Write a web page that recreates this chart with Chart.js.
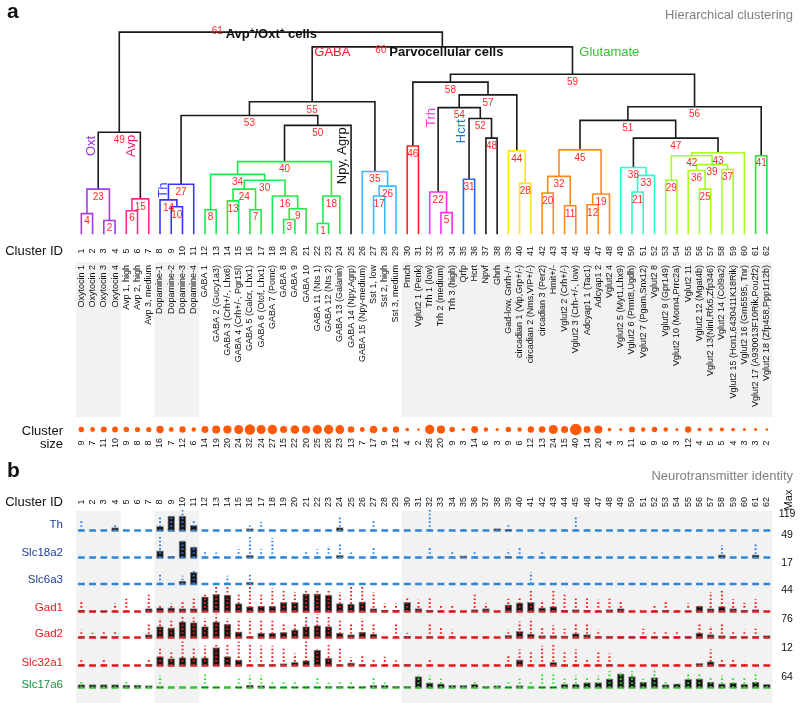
<!DOCTYPE html>
<html>
<head>
<meta charset="utf-8">
<script src="https://cdn.jsdelivr.net/npm/chart.js@4.4.1/dist/chart.umd.min.js"></script>
<style>
  html, body { margin: 0; padding: 0; background: #fff; }
  #wrap { width: 800px; height: 703px; }
</style>
</head>
<body>
<div id="wrap"><canvas id="fig" width="800" height="703"></canvas></div>
<script>
// --- data: clusters, in dendrogram leaf order ---
const clusterNames = [
  "Oxytocin 1", "Oxytocin 2", "Oxytocin 3", "Oxytocin 4",
  "Avp 1, high", "Avp 2, high", "Avp 3, medium",
  "Dopamine-1", "Dopamine-2", "Dopamine-3", "Dopamine-4",
  "GABA 1", "GABA 2 (Gucy1a3)", "GABA 3 (Crh+/-, Lhx6)", "GABA 4 (Crh+/-, Pgr15l)",
  "GABA 5 (Calcr, Lhx1)", "GABA 6 (Otof, Lhx1)", "GABA 7 (Pomc)", "GABA 8", "GABA 9",
  "GABA 10", "GABA 11 (Nts 1)", "GABA 12 (Nts 2)", "GABA 13 (Galanin)",
  "GABA 14 (Npy,Agrp)", "GABA 15 (Npy-medium)",
  "Sst 1, low", "Sst 2, high", "Sst 3, medium",
  "Pmch", "Vglut2 1 (Penk)", "Trh 1 (low)", "Trh 2 (medium)", "Trh 3 (high)",
  "Qrfp", "Hcrt", "Npvf", "Ghrh", "Gad-low, Gnrh-/+",
  "circadian 1 (Vip,Grp+/-)", "circadian 2 (Nms,VIP+/-)", "circadian 3 (Per2)", "Hmit+/-",
  "Vglut2 2 (Crh+/-)", "Vglut2 3 (Crh-+/-, low)", "Adcyap1 1 (Tac1)", "Adcyap1 2",
  "Vglut2 4", "Vglut2 5 (Myt1,Lhx9)", "Vglut2 6 (Prmt8,Ugdh)", "Vglut2 7 (Pgam,Snx12)",
  "Vglut2 8", "Vglut2 9 (Gpr149)", "Vglut2 10 (Morn4,Prrc2a)", "Vglut2 11",
  "Vglut2 12 (Mgat4b)", "Vglut2 13(Ninl,Rfx5,Zfp346)", "Vglut2 14 (Col9a2)",
  "Vglut2 15 (Hcn1,6430411K18Rik)", "Vglut2 16 (Gm5595, Tnr)",
  "Vglut2 17 (A930013F10Rik,Pou2f2)", "Vglut2 18 (Zfp458,Ppp1r12b)"
];
const clusterSizes = [
  9, 7, 11, 10, 9, 8, 8, 16, 7, 12, 6, 14, 19, 20, 24, 32, 24, 27, 15, 22,
  20, 25, 26, 23, 13, 7, 17, 9, 12, 4, 2, 26, 20, 9, 3, 14, 6, 3, 9, 6,
  12, 13, 24, 15, 40, 14, 20, 4, 3, 11, 6, 9, 6, 3, 12, 4, 5, 5, 4, 3,
  3, 2
];
const shadedRuns = [[1, 4], [8, 11], [30, 62]];

// --- data: dendrogram merges (node k = index k-1). "cN" = cluster N, "nK" = merge node K ---
const mergeLeft = [
  "c22", "c3", "c19", "c1", "c33", "c5", "c16", "c12", "n3", "c9",
  "c44", "c46", "c14", "c8", "n6", "c18", "c27", "n1", "n12", "c42",
  "c50", "c32", "n4", "n13", "c56", "n17", "n14", "c40", "c53", "n24",
  "c35", "n20", "n21", "n8", "c26", "c55", "c58", "c49", "n36", "n34",
  "c61", "n29", "n42", "c39", "n32", "c30", "n38", "c37", "n23", "n40",
  "n45", "n31", "n27", "n22", "n53", "n51", "n54", "n46", "n58", "n55",
  "n49"
];
const mergeRight = [
  "c23", "c4", "c20", "c2", "c34", "c6", "c17", "c13", "c21", "c10",
  "c45", "c47", "c15", "n10", "c7", "n9", "c28", "c24", "c48", "c43",
  "c51", "n5", "n2", "n7", "c57", "c29", "c11", "c41", "c54", "n16",
  "c36", "n11", "c52", "n30", "n26", "n25", "c59", "n33", "n37", "n18",
  "c62", "n39", "c60", "n28", "n19", "c31", "n43", "c38", "n15", "c25",
  "n47", "n48", "n50", "n52", "n35", "n41", "n44", "n57", "n56", "n59",
  "n60"
];
const mergeHeight = [
  11, 14, 15, 21, 22, 24, 25, 25, 26, 28,
  29, 30, 34, 35, 36, 39, 39, 39, 41, 42,
  43, 43, 46, 46, 46, 49, 51, 52, 55, 55,
  56, 59, 60, 61, 64, 65, 66, 68, 71, 74,
  80, 80, 83, 85, 86, 90, 98, 98, 104, 111,
  116, 118, 121, 129, 135, 130, 142, 155, 163, 191,
  206
];

// --- data: panel b, per gene: box top and highest cell per cluster (molecules) ---
const geneNames = ["Th", "Slc18a2", "Slc6a3", "Gad1", "Gad2", "Slc32a1", "Slc17a6"];
const geneMax = [119, 49, 17, 44, 76, 12, 64];

const thBox = [
  0, 0, 0, 18, 0, 0, 0, 24, 83, 83, 30, 0, 0, 0, 0, 12, 0, 0, 0, 0,
  0, 0, 0, 18, 0, 0, 0, 0, 0, 0, 0, 0, 0, 0, 0, 0, 0, 12, 6, 0,
  0, 0, 0, 0, 0, 0, 0, 0, 0, 0, 0, 0, 0, 0, 0, 0, 0, 0, 0, 0,
  0, 0
];
const thTop = [
  55, 0, 0, 36, 0, 0, 0, 77, 0, 119, 55, 0, 0, 0, 0, 30, 50, 0, 0, 0,
  18, 12, 12, 89, 0, 0, 55, 0, 12, 0, 0, 119, 0, 0, 12, 0, 0, 0, 40, 0,
  0, 0, 18, 18, 76, 12, 0, 0, 0, 0, 0, 0, 0, 0, 0, 0, 0, 0, 0, 0,
  0, 0
];
const slc18a2Box = [
  0, 0, 0, 0, 0, 0, 0, 12, 2, 30, 19, 0, 0, 0, 0, 4, 0, 0, 0, 0,
  0, 0, 0, 4, 0, 0, 0, 0, 0, 0, 0, 0, 0, 0, 3, 0, 0, 0, 2, 0,
  0, 0, 0, 0, 0, 0, 0, 0, 0, 0, 0, 0, 0, 0, 0, 0, 0, 5, 0, 0,
  5, 0
];
const slc18a2Top = [
  0, 0, 0, 0, 0, 0, 0, 41, 0, 34, 21, 12, 9, 0, 15, 39, 15, 36, 5, 0,
  12, 15, 21, 24, 9, 0, 20, 0, 5, 0, 0, 18, 7, 10, 0, 10, 0, 0, 14, 20,
  5, 12, 7, 5, 0, 5, 0, 0, 0, 0, 0, 0, 0, 5, 5, 0, 0, 22, 0, 0,
  25, 0
];
const slc6a3Box = [
  0, 0, 0, 0, 0, 0, 0, 0, 0, 2, 7.7, 0, 0, 0, 0, 1.3, 0, 0, 0, 0,
  0, 0, 0, 0, 0, 0, 0, 0, 0, 0, 0, 0, 0, 0, 0, 0, 0, 0, 0, 0,
  0, 0, 0, 0, 0, 0, 0, 0, 0, 0, 0, 0, 0, 0, 0, 0, 0, 0, 0, 0,
  0, 0
];
const slc6a3Top = [
  0, 0, 0, 0, 0, 0, 0, 7, 0, 5.5, 9, 0, 0, 5.5, 0, 7, 0, 0, 0, 0,
  2.5, 0, 0, 0, 0, 0, 0, 0, 0, 0, 0, 0, 0, 0, 0, 2.5, 0, 0, 0, 0,
  7.7, 0, 0, 0, 0, 0, 0, 0, 0, 0, 0, 0, 0, 0, 0, 0, 0, 0, 0, 0,
  0, 0
];
const gad1Box = [
  2, 1, 1, 0, 0, 0, 5, 6, 6, 5, 5, 24, 28, 27, 13, 8, 9, 9, 15, 15,
  29, 29, 27, 13, 12, 16, 5, 2, 2, 15, 5, 2, 1, 1, 0, 3, 5, 0, 11, 14,
  15, 6, 8, 2, 3, 2, 1, 3, 5, 0, 0, 1, 2, 0, 1, 9, 5, 8, 5, 2,
  3, 0
];
const gad1Top = [
  15, 0, 0, 13, 21, 0, 30, 11, 13, 15, 21, 31, 41, 40, 29, 44, 29, 38, 35, 32,
  37, 35, 35, 32, 40, 40, 32, 13, 13, 22, 19, 24, 10, 12, 0, 31, 13, 0, 21, 24,
  36, 16, 36, 29, 24, 22, 19, 21, 16, 0, 0, 11, 16, 3, 13, 8, 32, 34, 20, 14,
  20, 0
];
const gad2Box = [
  3, 3, 3, 3, 0, 0, 9, 34, 30, 49, 46, 34, 49, 42, 18, 3, 14, 14, 16, 24,
  34, 37, 34, 14, 9, 17, 11, 0, 0, 4, 0, 3, 0, 0, 0, 0, 0, 0, 7, 19,
  11, 6, 6, 5, 12, 9, 3, 3, 2, 2, 2, 2, 2, 2, 2, 14, 9, 6, 3, 3,
  3, 6
];
const gad2Top = [
  24, 15, 17, 17, 0, 0, 40, 60, 55, 70, 62, 60, 72, 60, 55, 60, 58, 58, 45, 45,
  70, 72, 65, 55, 40, 60, 45, 0, 40, 15, 0, 40, 30, 24, 0, 5, 5, 0, 24, 50,
  60, 30, 37, 27, 40, 40, 24, 0, 4, 4, 27, 21, 18, 21, 6, 45, 36, 45, 18, 24,
  27, 0
];
const slc32a1Box = [
  0.5, 0, 0, 0, 0, 0, 0.5, 4.4, 3.4, 3.9, 3.8, 3.8, 8.9, 4.4, 2.8, 0, 0.5, 0.5, 1, 1.6,
  2.4, 7.7, 3.6, 0.5, 1.3, 0.5, 0, 0, 0, 0.5, 0, 0, 0, 0, 0, 0, 0, 0, 0, 2.8,
  0, 0, 1.6, 0, 0, 0, 0, 0.5, 0, 0, 0, 0, 0, 0, 0, 1.1, 2, 0.5, 0, 0,
  0, 0
];
const slc32a1Top = [
  3.3, 0, 3.3, 0, 0, 0, 3.3, 9, 7.3, 12, 8.6, 9.8, 10.9, 10.9, 12, 11.4, 9.8, 9.8, 8.5, 6,
  12, 8, 11.4, 9, 4, 4.9, 3, 4.4, 2.5, 1.5, 0, 3.8, 0, 0, 0, 0, 0, 0, 4.9, 8,
  6.5, 9.8, 10.6, 7.3, 8, 3.3, 6.5, 6, 0, 0, 0, 0, 0, 1.5, 0, 0, 8, 3.3, 3.8, 2,
  0, 0
];
const slc17a6Box = [
  11, 11, 11, 11, 9, 9, 7, 4, 0, 0, 0, 3, 2, 0, 3, 9, 7, 3, 2, 3,
  3, 3, 4, 4, 3, 3, 8, 8, 4, 4, 40, 17, 14, 8, 8, 12, 4, 7, 3, 7,
  0, 3, 1, 12, 12, 18, 18, 32, 50, 40, 20, 36, 11, 14, 30, 32, 20, 14, 17, 12,
  20, 12
];
const slc17a6Top = [
  26, 0, 0, 0, 26, 15, 0, 44, 0, 0, 0, 50, 15, 0, 32, 44, 44, 26, 26, 26,
  15, 40, 18, 26, 26, 0, 38, 18, 0, 0, 44, 44, 32, 0, 0, 21, 0, 0, 26, 32,
  26, 50, 50, 32, 44, 40, 44, 60, 56, 59, 32, 64, 21, 0, 50, 50, 35, 44, 40, 38,
  56, 0
];
const geneBoxes = [thBox, slc18a2Box, slc6a3Box, gad1Box, gad2Box, slc32a1Box, slc17a6Box];
const geneTops = [thTop, slc18a2Top, slc6a3Top, gad1Top, gad2Top, slc32a1Top, slc17a6Top];

// --- layout ---
const W = 800, H = 703;
const FONT = '"Liberation Sans", Arial, sans-serif';
const rowBase = [534, 561.5, 588.5, 616.5, 643, 671.5, 694];
const rowTop = [513, 534, 562, 589, 618, 647, 676];
const labelColor = ["#1f3d99", "#1f3d99", "#1f3d99", "#e8191e", "#e8191e", "#e8191e", "#16923d"];
const dashColor = ["#2f86d6", "#2f86d6", "#2f86d6", "#e3161b", "#e3161b", "#e3161b", "#2cc42c"];
const dotColor = ["#2f7fe0", "#2f7fe0", "#2f7fe0", "#f01c1c", "#f01c1c", "#f01c1c", "#2ee02e"];

const branchGroups = [
  ["#a23cf0", [2, 4, 23]],
  ["#ff2a85", [6, 15]],
  ["#3535ff", [10, 14, 27]],
  ["#1eea4a", [1, 3, 7, 8, 9, 13, 16, 18, 24, 30, 34, 40]],
  ["#3cb9ff", [17, 26, 35]],
  ["#ff2020", [46]],
  ["#ff30ee", [5, 22]],
  ["#1a6cff", [31]],
  ["#ffe41a", [28, 44]],
  ["#ff8a1a", [11, 12, 19, 20, 32, 45]],
  ["#2bffc8", [21, 33, 38]],
  ["#a8ff1e", [25, 29, 36, 37, 39, 42, 43]],
  ["#36dc36", [41]],
];
const branchColor = {};
branchGroups.forEach(([c, ids]) => ids.forEach((id) => (branchColor[id] = c)));

// axis range so that value lo sits at pixel pxLo and hi at pxHi
function band(lo, hi, pxLo, pxHi) {
  const range = ((hi - lo) * H) / (pxLo - pxHi);
  const min = lo - ((H - pxLo) * range) / H;
  return { min: min, max: min + range };
}
const perUnit = (773 - 76) / 61;
const xMin = 1 - 76 / perUnit;
const xMax = xMin + W / perUnit;

// --- build datasets ---
const datasets = [];
const nodeX = {};
const nodeH = {};
function refPos(ref) {
  if (ref[0] === "c") return { x: +ref.slice(1), h: 0 };
  return { x: nodeX[ref], h: nodeH[ref] };
}
mergeLeft.forEach((left, i) => {
  const id = "n" + (i + 1);
  const a = refPos(left);
  const b = refPos(mergeRight[i]);
  const h = mergeHeight[i];
  nodeX[id] = (a.x + b.x) / 2;
  nodeH[id] = h;
  datasets.push({
    type: "line",
    yAxisID: "yTree",
    data: [{ x: a.x, y: a.h }, { x: a.x, y: h }, { x: b.x, y: h }, { x: b.x, y: b.h }],
    borderColor: branchColor[i + 1] || "#1a1a1a",
    borderWidth: 1.6,
    pointRadius: 0,
    fill: false,
    tension: 0,
    order: 0,
  });
});

datasets.push({
  type: "bubble",
  yAxisID: "ySize",
  data: clusterSizes.map((s, i) => ({ x: i + 1, y: 0, r: 0.92 * Math.sqrt(s) })),
  backgroundColor: "#ff5a0a",
  borderWidth: 0,
  order: 0,
});

const geneScales = {};
geneNames.forEach((g, k) => {
  const axis = "g" + k;
  geneScales[axis] = Object.assign(
    { type: "linear", display: false },
    band(0, geneMax[k], rowBase[k], rowTop[k])
  );
  // baseline dash for every cluster
  datasets.push({
    type: "scatter",
    yAxisID: axis,
    data: clusterNames.map((_, i) => ({ x: i + 1, y: 0 })),
    pointStyle: "line",
    pointRadius: 3.4,
    borderColor: dashColor[k],
    borderWidth: 2.6,
    order: 3,
  });
  // interquartile box
  datasets.push({
    type: "bar",
    yAxisID: axis,
    data: geneBoxes[k]
      .map((v, i) => ({ x: i + 1, y: v }))
      .filter((d) => d.y > 0),
    grouped: false,
    backgroundColor: "#151515",
    borderColor: "rgba(120,120,120,0.85)",
    borderWidth: 1,
    borderSkipped: false,
    barThickness: 7,
    order: 2,
  });
  // individual cells: dotted column from zero up to the highest cell
  const cells = [];
  geneTops[k].forEach((t, i) => {
    const top = Math.max(t, geneBoxes[k][i]);
    if (top <= 0) return;
    cells.push({ x: i + 1, y: 0 }, { x: i + 1, y: top }, { x: i + 1, y: null });
  });
  datasets.push({
    type: "line",
    yAxisID: axis,
    data: cells,
    borderColor: dotColor[k],
    borderWidth: 2,
    borderDash: [1.6, 2.2],
    pointRadius: 0,
    spanGaps: false,
    fill: false,
    order: 1,
  });
});

// --- text, shading and annotations ---
function vtext(ctx, str, x, y, align) {
  ctx.save();
  ctx.translate(x, y);
  ctx.rotate(-Math.PI / 2);
  ctx.textAlign = align;
  ctx.textBaseline = "middle";
  ctx.fillText(str, 0, 0);
  ctx.restore();
}
function runs(ctx, x, parts) {
  // parts: [text, font, color, baseline]
  ctx.textAlign = "left";
  ctx.textBaseline = "alphabetic";
  parts.forEach(([t, f, c, y]) => {
    ctx.font = f + " " + FONT;
    ctx.fillStyle = c;
    ctx.fillText(t, x, y);
    x += ctx.measureText(t).width;
  });
}

const figureText = {
  id: "figureText",
  beforeDatasetsDraw(chart) {
    const { ctx } = chart;
    const x = chart.scales.x;
    ctx.save();
    ctx.fillStyle = "#f2f2f2";
    shadedRuns.forEach(([a, b]) => {
      const l = x.getPixelForValue(a - 0.5);
      const r = x.getPixelForValue(b + 0.5);
      ctx.fillRect(l, 262, r - l, 155);
      ctx.fillRect(l, 511, r - l, H - 511);
    });
    ctx.restore();
  },
  afterDatasetsDraw(chart) {
    const { ctx } = chart;
    const x = chart.scales.x;
    const yTree = chart.scales.yTree;
    ctx.save();

    // panel letters and headings
    ctx.fillStyle = "#111";
    ctx.font = "bold 21px " + FONT;
    ctx.textAlign = "left";
    ctx.fillText("a", 7, 18);
    ctx.fillText("b", 7, 477);
    ctx.fillStyle = "#808080";
    ctx.font = "13px " + FONT;
    ctx.textAlign = "right";
    ctx.fillText("Hierarchical clustering", 793, 19);
    ctx.fillText("Neurotransmitter identity", 793, 480);

    // node numbers
    ctx.font = "10px " + FONT;
    ctx.fillStyle = "#ff2a2a";
    ctx.textAlign = "center";
    ctx.textBaseline = "middle";
    for (let k = 1; k <= 59; k++) {
      ctx.fillText(String(k), x.getPixelForValue(nodeX["n" + k]), yTree.getPixelForValue(nodeH["n" + k]) + 8);
    }

    // top-level titles
    const n61 = x.getPixelForValue(nodeX.n61);
    const n60 = x.getPixelForValue(nodeX.n60);
    runs(ctx, n61 - 69, [
      ["61", "10px", "#ff2a2a", 34],
      [" ", "10px", "#111", 38],
      ["Avp", "bold 13px", "#111", 38],
      ["+", "bold 8px", "#111", 33],
      ["/Oxt", "bold 13px", "#111", 38],
      ["+", "bold 8px", "#111", 33],
      [" cells", "bold 13px", "#111", 38],
    ]);
    runs(ctx, n60 - 128, [["GABA", "13px", "#ee2020", 56]]);
    runs(ctx, n60 - 67, [
      ["60", "10px", "#ff2a2a", 53],
      [" ", "10px", "#111", 56],
      ["Parvocellular cells", "bold 13px", "#111", 56],
    ]);
    runs(ctx, n60 + 137, [["Glutamate", "13px", "#33c433", 56]]);

    // rotated branch labels: [text, cluster position, tree height, colour]
    const branchLabels = [
      ["Oxt", 1.87, 90, "#9b30d8"],
      ["Avp", 5.46, 90, "#ee2277"],
      ["Th", 8.26, 45, "#3344ee"],
      ["Npy, Agrp", 24.27, 80, "#111"],
      ["Trh", 32.15, 119, "#ee33dd"],
      ["Hcrt", 34.86, 105, "#2277dd"],
    ];
    ctx.font = "13px " + FONT;
    branchLabels.forEach(([t, cx, h, c]) => {
      ctx.fillStyle = c;
      vtext(ctx, t, x.getPixelForValue(cx), yTree.getPixelForValue(h), "center");
    });

    // row headings
    ctx.fillStyle = "#111";
    ctx.font = "13px " + FONT;
    ctx.textAlign = "right";
    ctx.textBaseline = "middle";
    ctx.fillText("Cluster ID", 63, 251);
    ctx.fillText("Cluster ID", 63, 502);
    ctx.fillText("Cluster", 63, 431);
    ctx.fillText("size", 63, 444);

    // cluster ids, names, sizes
    ctx.font = "9px " + FONT;
    clusterNames.forEach((name, i) => {
      const px = x.getPixelForValue(i + 1);
      vtext(ctx, String(i + 1), px, 251, "center");
      vtext(ctx, String(i + 1), px, 502, "center");
      vtext(ctx, name, px, 265, "right");
      vtext(ctx, String(clusterSizes[i]), px, 443, "center");
    });

    // gene names and maxima
    geneNames.forEach((g, k) => {
      ctx.font = "11.5px " + FONT;
      ctx.fillStyle = labelColor[k];
      ctx.textAlign = "right";
      ctx.fillText(g, 63, rowBase[k] - 9);
      ctx.fillStyle = "#111";
      ctx.font = "10.5px " + FONT;
      ctx.textAlign = "center";
      ctx.fillText(String(geneMax[k]), 787, rowTop[k] + 1);
    });
    ctx.font = "11px " + FONT;
    vtext(ctx, "Max", 789, 500, "center");

    ctx.restore();
  },
};

const scales = Object.assign(
  {
    x: { type: "linear", min: xMin, max: xMax, offset: false, display: false },
    yTree: Object.assign({ type: "linear", display: false }, band(0, 206, 232, 26)),
    ySize: Object.assign({ type: "linear", display: false }, band(0, 1, 431, 421)),
  },
  geneScales
);

new Chart(document.getElementById("fig"), {
  type: "line",
  data: { datasets: datasets },
  options: {
    responsive: false,
    animation: false,
    events: [],
    layout: { padding: 0 },
    plugins: { legend: { display: false }, tooltip: { enabled: false } },
    scales: scales,
  },
  plugins: [figureText],
});
</script>
</body>
</html>
